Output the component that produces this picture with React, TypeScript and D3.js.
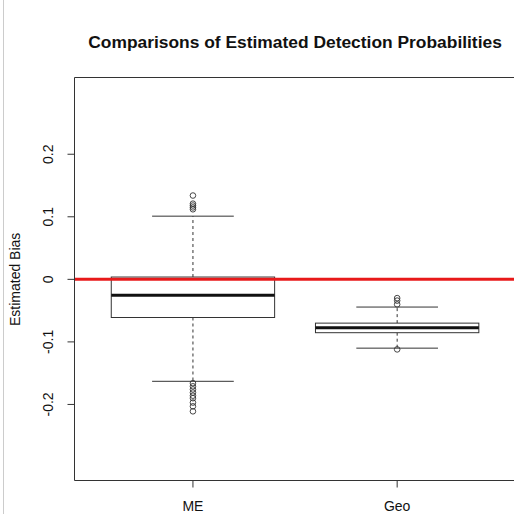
import React from 'react';
import * as d3 from 'd3';

const categories = ['ME', 'Geo'];
const lowerWhisker = [-0.163, -0.110];
const q1 = [-0.061, -0.0853];
const medians = [-0.0256, -0.0773];
const q3 = [0.0037, -0.070];
const upperWhisker = [0.101, -0.0443];
const outliersME = [0.134, 0.121, 0.118, 0.115, 0.112, -0.166, -0.171, -0.176, -0.181, -0.186, -0.190, -0.197, -0.203, -0.211];
const outliersGeo = [-0.030, -0.034, -0.040, -0.112];
const yTicks = [-0.2, -0.1, 0, 0.1, 0.2];

const App = () => {
  const W = 514, H = 514;
  const left = 74.5, top = 77.5, bottom = 480.5, right = 515.6;

  const x = d3.scaleLinear().domain([0.42, 2.58]).range([left, right]);
  const y = d3.scaleLinear().domain([-0.3216, 0.3227]).range([bottom, top]);

  const boxHalf = (x(1.4) - x(1)) ;
  const capHalf = boxHalf / 2;
  const outliers = [outliersME, outliersGeo];
  const stroke = '#333';

  return (
    <svg width={W} height={H} style={{ position: 'absolute', left: 0, top: 0, background: '#fff' }}
      fontFamily="'Liberation Sans', Arial, sans-serif">
      <line x1={3.5} x2={3.5} y1={0} y2={H} stroke="#ccc" />
      <text x={(left + right) / 2} y={48} textAnchor="middle" fontWeight="bold" fontSize={17.4} fill="#111">
        Comparisons of Estimated Detection Probabilities
      </text>

      {categories.map((c, i) => {
        const cx = x(i + 1);
        return (
          <g key={c}>
            <line x1={cx} x2={cx} y1={y(q3[i])} y2={y(upperWhisker[i])} stroke={stroke} strokeDasharray="3,3" />
            <line x1={cx} x2={cx} y1={y(q1[i])} y2={y(lowerWhisker[i])} stroke={stroke} strokeDasharray="3,3" />
            <line x1={cx - capHalf} x2={cx + capHalf} y1={y(upperWhisker[i])} y2={y(upperWhisker[i])} stroke={stroke} />
            <line x1={cx - capHalf} x2={cx + capHalf} y1={y(lowerWhisker[i])} y2={y(lowerWhisker[i])} stroke={stroke} />
            <rect x={cx - boxHalf} y={y(q3[i])} width={boxHalf * 2} height={y(q1[i]) - y(q3[i])}
              fill="#fff" stroke={stroke} />
            <line x1={cx - boxHalf} x2={cx + boxHalf} y1={y(medians[i])} y2={y(medians[i])} stroke="#111" strokeWidth={3} />
            {outliers[i].map((v, k) => (
              <circle key={k} cx={cx} cy={y(v)} r={2.8} fill="none" stroke={stroke} strokeWidth={0.9} />
            ))}
            <line x1={cx} x2={cx} y1={bottom} y2={bottom + 7} stroke={stroke} />
            <text x={cx} y={511} textAnchor="middle" fontSize={14} fill="#111">{c}</text>
          </g>
        );
      })}

      <line x1={left} x2={W} y1={y(0)} y2={y(0)} stroke="#e8191a" strokeWidth={3} />

      <path d={`M${W},${top}H${left}V${bottom}H${W}`} fill="none" stroke={stroke} />

      {yTicks.map(t => (
        <g key={t}>
          <line x1={left - 7} x2={left} y1={y(t)} y2={y(t)} stroke={stroke} />
          <text transform={`translate(48,${y(t)}) rotate(-90)`} textAnchor="middle" dominantBaseline="central"
            fontSize={14} fill="#111">{String(t)}</text>
        </g>
      ))}
      <text transform={`translate(15,${y(0)}) rotate(-90)`} textAnchor="middle" dominantBaseline="central"
        fontSize={14} fill="#111">Estimated Bias</text>
    </svg>
  );
};

export default App;
